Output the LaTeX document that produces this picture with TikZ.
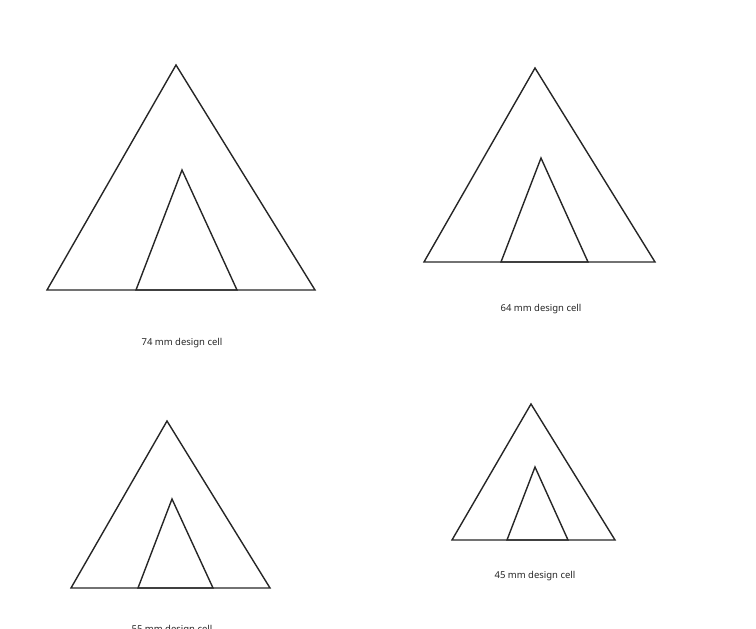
\documentclass[tikz,border=0pt]{standalone}
\usepackage{fontspec}
\setmainfont{Noto Sans}
\tikzstyle{cellline}=[draw,line width=1.4pt,black!85,line join=miter]
\tikzstyle{celllabel}=[font=\fontsize{9.5}{11}\selectfont,text=black!85,inner sep=0pt]

\begin{document}
\begin{tikzpicture}[x=1pt,y=-1pt]

    \useasboundingbox (0,0) rectangle (756,629);

    % apex / base / inner triangle / label row for each cell
    \foreach \name/\ax/\ay/\lx/\rx/\by/\ix/\iy/\il/\ir/\ly/\mm in {
        a/176/65/47/315/290/182/170/136/237/343/74,
        b/535/68/424/655/262/541/158/501/588/309/64,
        c/167/421/71/270/588/172/499/138/213/630/55,
        d/531/404/452/615/540/535/467/507/568/576/45}
    {
        \coordinate (\name top) at (\ax,\ay);
        \coordinate (\name left) at (\lx,\by);
        \coordinate (\name right) at (\rx,\by);
        \coordinate (\name itop) at (\ix,\iy);
        \coordinate (\name ileft) at (\il,\by);
        \coordinate (\name iright) at (\ir,\by);

        \path[cellline] (\name top) -- (\name right) -- (\name left) -- cycle;
        \path[cellline] (\name itop) -- (\name iright) -- (\name ileft) -- cycle;

        \node[celllabel] (\name lab) at (\ix,\ly) {\mm\ mm design cell};
    }

\end{tikzpicture}
\end{document}
